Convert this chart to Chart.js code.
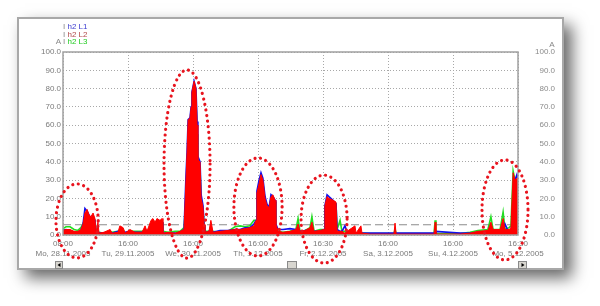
<!DOCTYPE html>
<html><head><meta charset="utf-8">
<script src="https://cdn.jsdelivr.net/npm/chart.js@4.4.0/dist/chart.umd.min.js"></script>
<style>
html,body{margin:0;padding:0;background:#fff;width:600px;height:306px;overflow:hidden}
#frame{position:absolute;left:17px;top:17px;width:543px;height:249px;border:2px solid #a8a8a8;background:#fff;box-shadow:8px 8px 15px rgba(0,0,0,0.6)}
#c{position:absolute;left:0;top:0}
</style></head><body>
<div id="frame"></div>
<canvas id="c" width="600" height="306"></canvas>
<script>
// hours since Mo 28.11.2005 (axis start)
const hours = [0,1.1,2.6,4.1,5.5,6.6,7.4,8.1,8.9,9.6,10.3,11.1,11.8,12.2,12.9,13.3,15.1,17.4,18.1,20.3,21.0,22.2,22.9,24.7,26.6,29.2,30.3,31.0,32.5,33.2,34.0,34.7,35.8,36.6,36.9,38.8,41.4,43.2,44.7,45.4,45.8,46.2,46.9,47.3,47.6,48.4,49.1,49.5,49.8,50.6,51.0,51.7,52.1,52.4,53.9,54.6,55.4,58.0,60.9,63.5,65.4,67.2,69.0,70.5,71.3,71.6,72.4,73.1,73.8,74.6,75.3,76.1,76.8,77.5,78.3,78.6,79.4,81.2,83.8,86.0,86.8,87.5,89.4,91.2,91.9,92.7,94.9,96.4,96.7,97.5,98.2,99.7,100.8,101.2,102.3,103.0,104.1,104.9,107.8,108.2,110.0,110.4,113.4,122.2,122.6,123.0,137.0,137.4,137.7,146.6,150.3,153.2,156.9,158.0,158.8,161.4,162.5,163.2,164.7,165.4,166.2,166.9,167.6,168];
const l2 = [2.5,3,3,2,2,3,6,12,14,11,10,12,9,1,7,1,1.5,3,1,1.5,5,4,1,3,1.5,1.5,5,2,8,9,7,9,8,9,1,1.5,1,2,3,30,45,63,64,70,78,84,80,60,41,40,20,15,5,1.5,2,8,1.5,2,2.5,3,3,3.5,4,5,8,23,28,33,30,20,16,15,21,22,19,6,2,1.5,2,3,6,2,2.5,4,7,2,2.5,3,16,21,20,19,18,2,2,2,1,2,5,1,5,1,0.5,0.5,6.5,0.5,0.5,7,0.5,0.5,1,2,2.5,7,3,3,9,3,3,4,34,30,31,31];
const l1 = [2.5,3,2.5,1.5,1.5,2.5,6,14.5,13,11,9,10,8,1,2,1,1.2,1.5,1,2,2,2,1.5,2,1.5,1.5,2,2,3,7,5,8,6,7,1,1,1,1.5,3,32,45,63,64,70,78,84,80,62,43,40,22,16,5,1,2,3,1.5,2.5,2.5,3,3,4,4,6,8,24,30,34,31,21,17,15,22,21,19,6,3,3,3.5,3,3,2,2.5,3,3,2,2,3,16,22,21,19,17,3,2,2,5,1.5,1,1,1,1,1,1,1,1,1,1,2,1,1,1.5,2,2,3,2,1.5,6,1,2,10,30,33,31,31];
const l3 = [3.5,4.5,4.5,3,2.5,4,6,9,11,10,9,10,8,2,2,1.5,1,2,1.5,2,2.5,3,1,2,2,2,3,2,3,5,5,6,6,7,2,1.5,2,2,4,20,35,50,55,60,70,80,75,55,38,36,18,14,5,2,2,3,2,1.5,2,4.5,5,4.5,5,8,8,20,26,30,28,19,15,14,20,20,18,5,2,1.5,2,3,9,2,2.5,4,10,2,3,3,14,20,19,18,17,3,8,2,2,1,1,1,1,1,0.8,0.8,3,0.8,0.8,8,0.8,0.8,1.5,2.5,3,10,3,3,12.5,3,4,5,35,30,30,30];
const limitValue = 5.6;
const tickHours = [0,24,48,72,96,120,144,168];
const timeLabels = ['08:00','16:00','16:00','16:00','16:30','16:00','16:00','16:30'];
const dayLabels = ['Mo, 28.11.2005','Tu, 29.11.2005','We, 30.11.2005','Th, 1.12.2005','Fr, 2.12.2005','Sa, 3.12.2005','Su, 4.12.2005','Mo, 5.12.2005'];
// highlight ellipses in data units: [centerHour, centerValue, radiusHours, radiusValue]
const highlights = [[5.2,7.7,7.8,20.2],[45.8,38.8,8.5,51.4],[72.0,15.3,8.9,26.8],[96.4,8.7,8.5,24.0],[163.2,13.7,8.5,27.3]];

const FONT = 'Liberation Sans, Arial, sans-serif';
const pts = arr => arr.map((v,i)=>({x:hours[i], y:v}));

const decor = {
  id:'decor',
  afterDatasetsDraw(chart){
    const {ctx, chartArea:a} = chart;
    ctx.save();
    ctx.strokeStyle = '#a0a0a0'; ctx.lineWidth = 1.5;
    ctx.strokeRect(a.left, a.top, a.right-a.left, a.bottom-a.top);
    ctx.restore();
  },
  afterDraw(chart){
    const {ctx, scales} = chart;
    ctx.save();
    ctx.font = '8px ' + FONT; ctx.textBaseline = 'middle'; ctx.textAlign = 'left';
    const rows = [['I ','h2 L1','#3c3cd0',27],['I ','h2 L2','#b04848',34.5],['I ','h2 L3','#22cc22',42]];
    rows.forEach(r=>{
      ctx.fillStyle = '#888'; ctx.fillText(r[0], 63, r[3]);
      const w = ctx.measureText(r[0]).width;
      ctx.fillStyle = r[2]; ctx.fillText(r[1], 63 + w, r[3]);
    });
    ctx.fillStyle = '#888'; ctx.textAlign = 'right'; ctx.fillText('A', 61, 42);
    ctx.textAlign = 'center'; ctx.fillText('A', 552, 45);
    ctx.strokeStyle = '#e8141e'; ctx.lineWidth = 3.2; ctx.lineCap = 'round';
    ctx.setLineDash([0.01, 5.6]);
    const xs = scales.x, ys = scales.y;
    highlights.forEach(h=>{
      const cx = xs.getPixelForValue(h[0]), cy = ys.getPixelForValue(h[1]);
      const rx = xs.getPixelForValue(h[0]+h[2]) - cx;
      const ry = cy - ys.getPixelForValue(h[1]+h[3]);
      ctx.beginPath(); ctx.ellipse(cx, cy, rx, ry, 0, 0, Math.PI*2); ctx.stroke();
    });
    ctx.setLineDash([]);
    const box = (x,y,w,h)=>{
      ctx.fillStyle = '#d8d6d0'; ctx.fillRect(x,y,w,h);
      ctx.strokeStyle = '#8a8a8a'; ctx.lineWidth = 1; ctx.strokeRect(x+0.5,y+0.5,w-1,h-1);
    };
    box(55,261,8,8); box(287,261,10,8); box(518,261,9,8);
    ctx.fillStyle = '#000';
    ctx.beginPath(); ctx.moveTo(57.5,265); ctx.lineTo(60.5,263); ctx.lineTo(60.5,267); ctx.fill();
    ctx.beginPath(); ctx.moveTo(524.5,265); ctx.lineTo(521.5,263); ctx.lineTo(521.5,267); ctx.fill();
    ctx.restore();
  }
};

new Chart(document.getElementById('c'), {
  type:'line',
  data:{ datasets:[
    {label:'h2 L2', data:pts(l2), borderColor:'#ff0000', backgroundColor:'#ff0000', fill:'origin', borderWidth:1, pointRadius:0, tension:0, order:0},
    {label:'h2 L1', data:pts(l1), borderColor:'#1010ee', borderWidth:1.6, pointRadius:0, tension:0, fill:false, order:1},
    {label:'h2 L3', data:pts(l3), borderColor:'#22dd22', borderWidth:1.6, pointRadius:0, tension:0, fill:false, order:2},
    {label:'limit', data:[{x:0,y:limitValue},{x:168,y:limitValue}], borderColor:'#8c8c8c', borderWidth:1.2, borderDash:[8,4], pointRadius:0, fill:false, order:3}
  ]},
  options:{
    responsive:false, animation:false, devicePixelRatio:1,
    layout:{padding:{top:52,left:0,right:45,bottom:0}},
    plugins:{legend:{display:false}, tooltip:{enabled:false}},
    scales:{
      x:{type:'linear', min:0, max:168,
        afterBuildTicks: s => { s.ticks = tickHours.map(v=>({value:v})); },
        afterFit: s => { s.height = 71; },
        ticks:{callback:(v,i)=>[timeLabels[i], dayLabels[i]], color:'#7a7a7a', font:{family:FONT,size:8}, maxRotation:0, autoSkip:false, padding:4},
        grid:{color:'#a8a8a8', lineWidth:1, drawTicks:false},
        border:{display:false, dash:[1,2]}},
      y:{position:'left', min:0, max:100,
        afterFit: s => { s.width = 63; },
        ticks:{stepSize:10, callback:v=>v.toFixed(1), color:'#7a7a7a', font:{family:FONT,size:8}, padding:2},
        grid:{color:'#a8a8a8', lineWidth:1, drawTicks:false},
        border:{display:false, dash:[1,2]}},
      y2:{position:'right', min:0, max:100,
        afterFit: s => { s.width = 37; },
        ticks:{stepSize:10, callback:v=>v.toFixed(1), color:'#8a8a8a', font:{family:FONT,size:8}, padding:17, crossAlign:'far'},
        grid:{display:false, drawTicks:false},
        border:{display:false}}
    }
  },
  plugins:[decor]
});
</script>
</body></html>
